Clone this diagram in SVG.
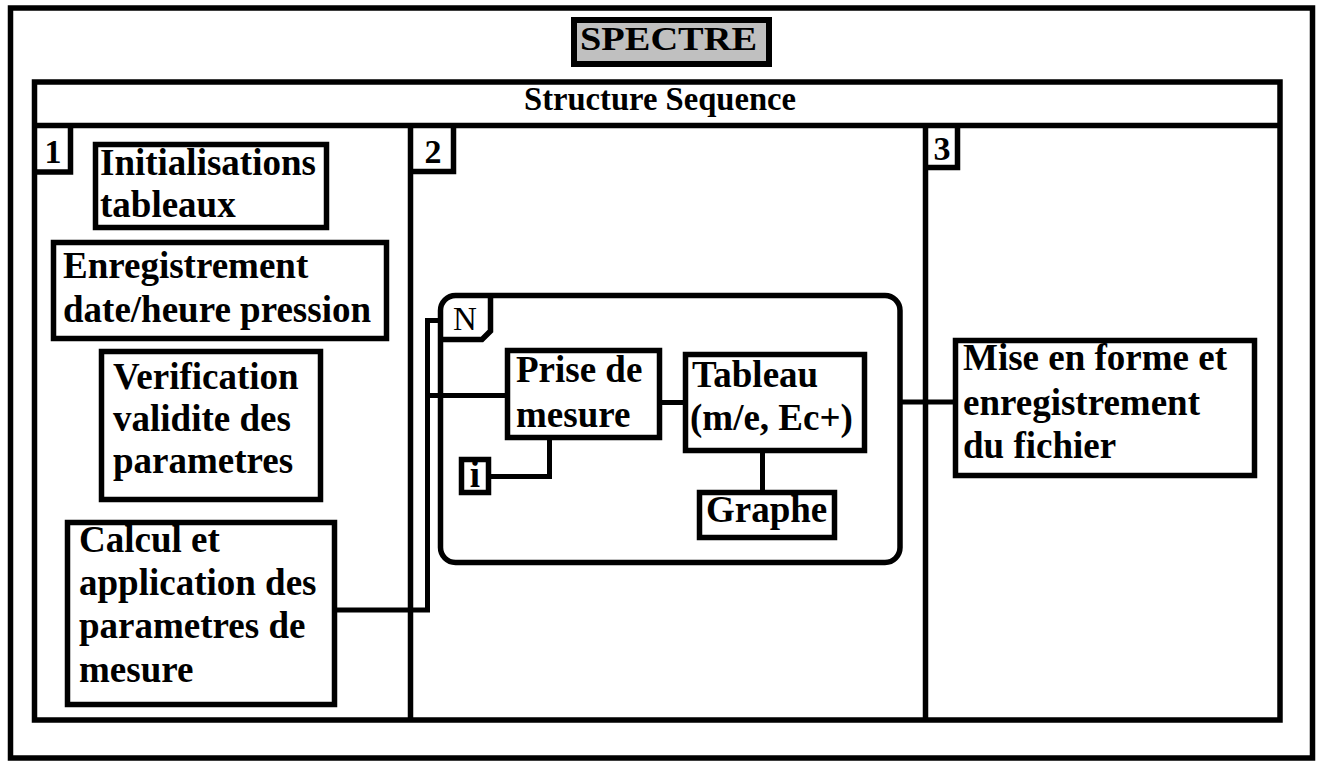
<svg xmlns="http://www.w3.org/2000/svg" width="1317" height="761" viewBox="0 0 1317 761">
  <style>
    .frame { fill: none; stroke: #000; stroke-width: 5.5; }
    .box { fill: #fff; stroke: #000; stroke-width: 5.5; }
    .line { fill: none; stroke: #000; stroke-width: 5; }
    .t { font-family: "Liberation Serif", "Times New Roman", serif; font-weight: bold; font-size: 37px; fill: #000; }
    .num { font-family: "Liberation Serif", "Times New Roman", serif; font-weight: bold; font-size: 34px; fill: #000; text-anchor: middle; }
  </style>
  <rect x="0" y="0" width="1317" height="761" fill="#fff"/>

  <g id="outer">
    <rect class="frame" x="10.5" y="8" width="1302" height="750"/>
  </g>

  <g id="title">
    <rect x="574" y="20" width="195" height="44" fill="#c0c0c0" stroke="#000" stroke-width="6"/>
    <text x="580" y="50" font-family="Liberation Serif, Times New Roman, serif" font-weight="bold" font-size="34" textLength="177" lengthAdjust="spacingAndGlyphs">SPECTRE</text>
  </g>

  <g id="sequence">
    <rect class="frame" x="34.5" y="82" width="1245.5" height="638"/>
    <line class="frame" x1="34.5" y1="125.5" x2="1280" y2="125.5"/>
    <line class="frame" x1="410.5" y1="125.5" x2="410.5" y2="720"/>
    <line class="frame" x1="925.5" y1="125.5" x2="925.5" y2="720"/>
    <text x="660" y="110" text-anchor="middle" font-family="Liberation Serif, Times New Roman, serif" font-weight="bold" font-size="33" textLength="272" lengthAdjust="spacingAndGlyphs">Structure Sequence</text>
    <path class="frame" d="M34.5 172 H70.5 V125.5"/>
    <text class="num" x="53" y="163">1</text>
    <path class="frame" d="M410.5 171.5 H453.5 V125.5"/>
    <text class="num" x="433" y="163">2</text>
    <path class="frame" d="M925.5 167.5 H957.5 V125.5"/>
    <text class="num" x="942" y="160">3</text>
  </g>

  <g id="connectors">
    <path class="line" d="M335 610 H427.5 V320.5 H441"/>
    <path class="line" d="M427.5 395.5 H507.5"/>
    <path class="line" d="M659.5 402.5 H685.5"/>
    <path class="line" d="M762.5 450.5 V492.5"/>
    <path class="line" d="M488.5 476.5 H549.5 V437.5"/>
    <path class="line" d="M900 402 H955.5"/>
  </g>

  <g id="loop">
    <rect class="frame" x="440.5" y="295.5" width="459.5" height="267" rx="15" ry="15"/>
    <path class="frame" d="M440.5 339.5 H482 L490.5 331 V295.5"/>
    <text x="453" y="330" font-family="Liberation Serif, Times New Roman, serif" font-size="33">N</text>
  </g>

  <g id="init">
    <rect class="box" x="95.5" y="144.5" width="231" height="83"/>
    <text class="t" x="100" y="175">Initialisations</text>
    <text class="t" x="100" y="217">tableaux</text>
  </g>

  <g id="enreg">
    <rect class="box" x="53.5" y="242.5" width="333" height="96"/>
    <text class="t" x="63" y="278">Enregistrement</text>
    <text class="t" x="63" y="322">date/heure pression</text>
  </g>

  <g id="verif">
    <rect class="box" x="101.5" y="351.5" width="219" height="148"/>
    <text class="t" x="113" y="389">Verification</text>
    <text class="t" x="113" y="431">validite des</text>
    <text class="t" x="113" y="473">parametres</text>
  </g>

  <g id="calcul">
    <rect class="box" x="67.5" y="522.5" width="267" height="182"/>
    <text class="t" x="79" y="552">Calcul et</text>
    <text class="t" x="79" y="595">application des</text>
    <text class="t" x="79" y="638">parametres de</text>
    <text class="t" x="79" y="682">mesure</text>
  </g>

  <g id="prise">
    <rect class="box" x="507.5" y="350.5" width="152" height="87"/>
    <text class="t" x="516" y="382">Prise de</text>
    <text class="t" x="516" y="427">mesure</text>
  </g>

  <g id="tableau">
    <rect class="box" x="685.5" y="354.5" width="179" height="96"/>
    <text class="t" x="692" y="387">Tableau</text>
    <text class="t" x="690" y="430">(m/e, Ec+)</text>
  </g>

  <g id="graphe">
    <rect class="box" x="699.5" y="492.5" width="135" height="45"/>
    <text class="t" x="706" y="522">Graphe</text>
  </g>

  <g id="i">
    <rect class="box" x="461.5" y="459.5" width="27" height="33"/>
    <text class="t" x="475" y="487" text-anchor="middle">i</text>
  </g>

  <g id="mise">
    <rect class="box" x="955.5" y="340.5" width="299" height="135"/>
    <text class="t" x="963" y="370">Mise en forme et</text>
    <text class="t" x="963" y="415">enregistrement</text>
    <text class="t" x="963" y="458">du fichier</text>
  </g>
</svg>
